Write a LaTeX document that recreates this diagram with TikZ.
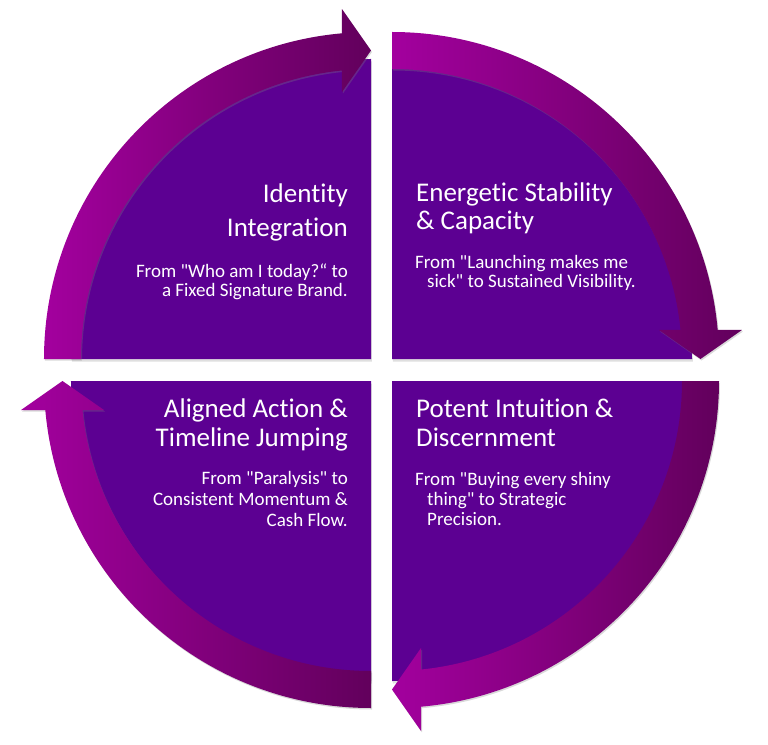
\documentclass[tikz,border=0pt]{standalone}
\usepackage{fontspec}
\setmainfont{Carlito}[Ligatures={TeXOff,NoCommon}]
\usetikzlibrary{calc,shadows}

\definecolor{quadpurple}{HTML}{5C0092}
\definecolor{arrowlight}{HTML}{A3009E}
\definecolor{arrowdark}{HTML}{62005C}

\begin{document}
\begin{tikzpicture}[ x=1pt, y=1pt,
      quad/.style={fill=quadpurple, drop shadow={shadow xshift=0.8pt,
          shadow yshift=-2.5pt, opacity=0.25}},
      band/.style={left color=arrowlight, right color=arrowdark,
        drop shadow={shadow xshift=1pt, shadow yshift=-1.5pt, opacity=0.3}},
      title/.style={text=white, inner sep=0pt, font=\fontsize{27}{31}\selectfont},
      body/.style={text=white, inner sep=0pt, font=\fontsize{19}{20}\selectfont} ]

      \useasboundingbox (-381.5,-374) rectangle (386.5,370);

      % Corners of the quarters
      \coordinate (tl) at (-10.5,11); \coordinate (tr) at (10.5,11);
      \coordinate (br) at (10.5,-11); \coordinate (bl) at (-10.5,-11);

      % Quarters
      \foreach \c/\a in {tl/90, tr/0, br/-90, bl/180}
      \fill[quad] (\c) -- ($(\c)+(\a:300)$) arc[start angle=\a, delta
      angle=90, radius=300] -- cycle;

      % Curved arrows, all running clockwise
      \foreach \c/\t in {tl/180, tr/90, br/0, bl/-90} {
        \pgfmathsetmacro{\oend}{\t-84.91}
        \pgfmathsetmacro{\iend}{\t-84.26}
        \shade[band] ($(\c)+(\t:327)$) arc[start angle=\t, end angle=\oend,
        radius=327] -- ($(\c)+(\t-85.26:351.2)$) -- ($(\c)+(\t-90:308.5)$)
        -- ($(\c)+(\t-83.8:268.6)$) -- ($(\c)+(\iend:290)$) arc[start
        angle=\iend, end angle=\t, radius=290] -- cycle;
      }

      % Texts (anchored at the baseline of their last line)
      \node[title, align=right, anchor=base east] (tltitle) at (-33.5,133)
      {Identity\\[3pt]Integration};
      \node[body, align=right, anchor=base east] (tlbody) at (-33.5,74)
      {From "Who am I today?“ to\\[-1pt]a Fixed Signature Brand.};

      \node[title, align=left, anchor=base west] (trtitle) at (34.5,140)
      {Energetic Stability\\[-3pt]\& Capacity};
      \node[body, align=left, anchor=base west] (trbody) at (33.5,82)
      {From "Launching makes me\\[-1pt]\hspace*{12pt}sick" to Sustained Visibility.};

      \node[title, align=left, anchor=base west] (brtitle) at (34.5,-76)
      {Potent Intuition \&\\[-2pt]Discernment};
      \node[body, align=left, anchor=base west] (brbody) at (33.5,-155)
      {From "Buying every shiny\\\hspace*{12pt}thing" to Strategic\\\hspace*{12pt}Precision.};

      \node[title, align=right, anchor=base east] (bltitle) at (-33.5,-76)
      {Aligned Action \&\\[-2pt]Timeline Jumping};
      \node[body, align=right, anchor=base east] (blbody) at (-33.5,-156)
      {From "Paralysis" to\\[1pt]Consistent Momentum \&\\[1pt]Cash Flow.};
    \end{tikzpicture}
\end{document}
